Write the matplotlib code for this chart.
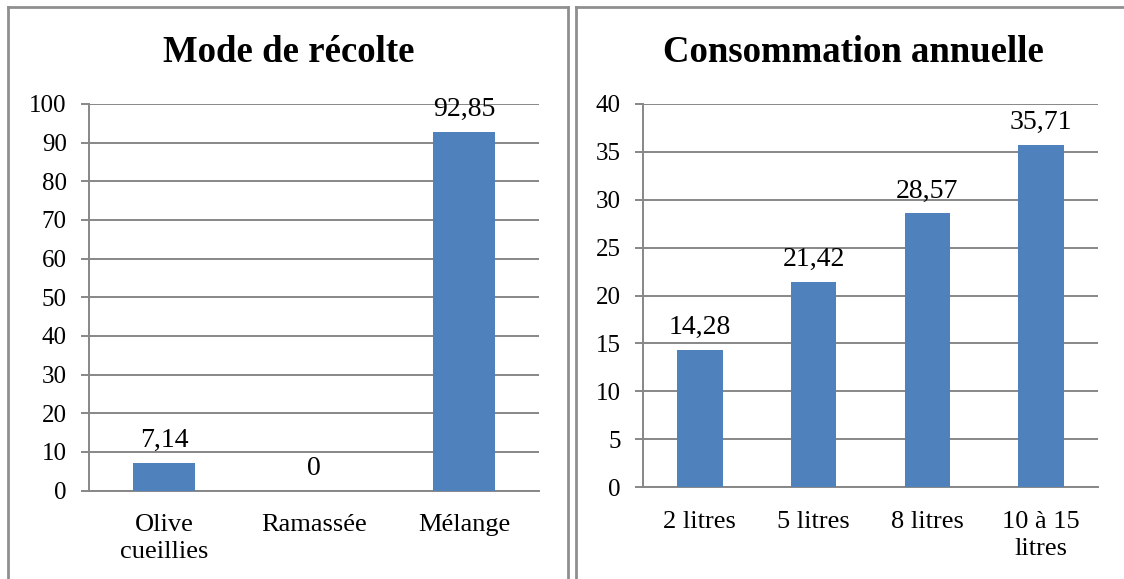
import matplotlib.pyplot as plt
from matplotlib.lines import Line2D

plt.rcParams['font.family'] = ['Liberation Serif', 'DejaVu Serif']

# Données
recolte_cat = ['Olive\ncueillies', 'Ramassée', 'Mélange']
recolte_val = [7.14, 0, 92.85]
recolte_lbl = ['7,14', '0', '92,85']

conso_cat = ['2 litres', '5 litres', '8 litres', '10 à 15\nlitres']
conso_val = [14.28, 21.42, 28.57, 35.71]
conso_lbl = ['14,28', '21,42', '28,57', '35,71']

BAR = '#4F81BD'
GRIS = '#878787'
W, H = 1124, 579


def dessiner(ax, cats, vals, lbls, ymax, pas, bw):
    x = range(len(cats))
    ax.bar(x, vals, width=bw, color=BAR, zorder=3)
    for xi, v, t in zip(x, vals, lbls):
        ax.annotate(t, (xi, v), xytext=(0, 11.5), textcoords='offset points',
                    ha='center', va='baseline', fontsize=20, zorder=4)
    ax.set_xlim(-0.5, len(cats) - 0.5)
    ax.set_ylim(0, ymax)
    ax.set_yticks(range(0, ymax + 1, pas))
    ax.set_xticks(list(x))
    ax.set_xticklabels(cats, fontsize=19, linespacing=1.3)
    ax.tick_params(axis='x', length=0, pad=17)
    ax.tick_params(axis='y', length=6, width=1.4, color=GRIS, pad=10, labelsize=18)
    ax.yaxis.grid(True, color=GRIS, linewidth=1.4, zorder=0)
    ax.set_axisbelow(True)
    for s in ['top', 'right']:
        ax.spines[s].set_visible(False)
    for s in ['left', 'bottom']:
        ax.spines[s].set_color(GRIS)
        ax.spines[s].set_linewidth(1.4)


fig = plt.figure(figsize=(W / 100, H / 100), dpi=100)

ax1 = fig.add_axes([89 / W, 1 - 490.5 / H, 450 / W, 386.5 / H])
dessiner(ax1, recolte_cat, recolte_val, recolte_lbl, 100, 10, 0.41)

ax2 = fig.add_axes([643 / W, 1 - 487 / H, 455 / W, 383 / H])
dessiner(ax2, conso_cat, conso_val, conso_lbl, 40, 5, 0.40)

fig.text(289 / W, 1 - 52 / H, 'Mode de récolte', ha='center', va='center',
         fontsize=26.5, fontweight='bold')
fig.text(853 / W, 1 - 52 / H, 'Consommation annuelle', ha='center', va='center',
         fontsize=26.5, fontweight='bold')

# cadres des deux graphiques
cadre = '#8f8f8f'
for xs, ys in [([8, 8], [H, 7]), ([8, 568], [7, 7]), ([568, 568], [7, H]),
               ([576, 576], [H, 7]), ([576, W], [7, 7])]:
    fig.add_artist(Line2D([v / W for v in xs], [1 - v / H for v in ys],
                          color=cadre, linewidth=2.0))

fig.savefig('out.png', dpi=100)
